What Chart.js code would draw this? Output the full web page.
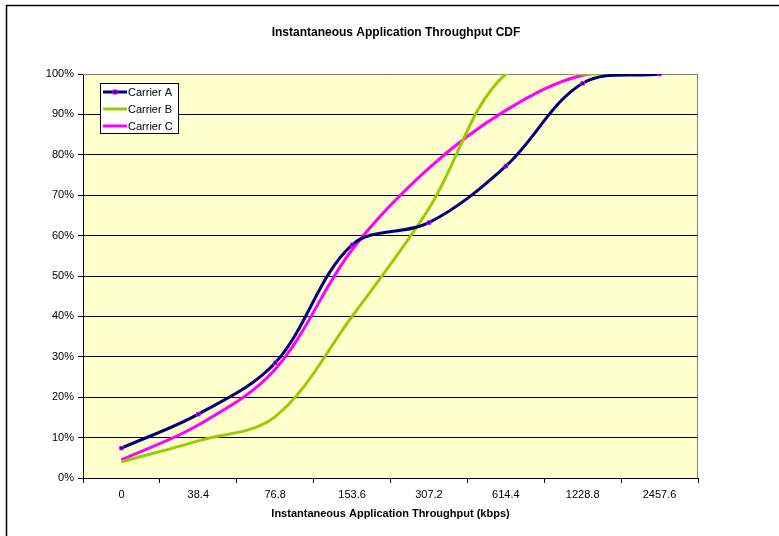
<!DOCTYPE html>
<html>
<head>
<meta charset="utf-8">
<script src="https://cdn.jsdelivr.net/npm/chart.js@4"></script>
<style>
  html, body { margin: 0; padding: 0; background: #fff; }
  #wrap { width: 779px; height: 536px; position: relative; }
</style>
</head>
<body>
<div id="wrap"><canvas id="c" width="779" height="536"></canvas></div>
<script>
const chartTitle = 'Instantaneous Application Throughput CDF';
const xAxisTitle = 'Instantaneous Application Throughput (kbps)';
const categories = ['0', '38.4', '76.8', '153.6', '307.2', '614.4', '1228.8', '2457.6'];
const carrierA = [7.4, 15.8, 28.5, 57.7, 63.2, 77.2, 97.7, 100];
const carrierB = [4.0, 9.2, 15.2, 40.0, 66.7, 100, 100, 100];
const carrierC = [4.5, 13.1, 26.9, 56.5, 76.7, 91.0, 99.7, 100];
const seriesNames = ['Carrier A', 'Carrier B', 'Carrier C'];
const yTicks = [0, 10, 20, 30, 40, 50, 60, 70, 80, 90, 100];

const FONT = 'Arial, "Liberation Sans", sans-serif';

const framePlugin = {
  id: 'frame',
  beforeDraw(chart) {
    const ctx = chart.ctx, a = chart.chartArea;
    ctx.save();
    ctx.fillStyle = '#fff';
    ctx.fillRect(0, 0, chart.width, chart.height);
    ctx.strokeStyle = '#000';
    ctx.lineWidth = 1.5;
    ctx.strokeRect(6.5, 5.5, chart.width + 50, chart.height + 50);
    ctx.fillStyle = '#FFFFCC';
    ctx.fillRect(a.left, a.top, a.right - a.left, a.bottom - a.top);
    ctx.fillStyle = '#000';
    ctx.font = 'bold 12px ' + FONT;
    ctx.textAlign = 'center';
    ctx.textBaseline = 'middle';
    ctx.fillText(chartTitle, 396, 33);
    ctx.restore();
  },
  beforeDatasetsDraw(chart) {
    const ctx = chart.ctx, a = chart.chartArea;
    ctx.save();
    ctx.strokeStyle = '#808080';
    ctx.lineWidth = 1;
    ctx.beginPath();
    ctx.moveTo(a.left, a.top + 0.5);
    ctx.lineTo(a.right - 0.5, a.top + 0.5);
    ctx.lineTo(a.right - 0.5, a.bottom);
    ctx.stroke();
    ctx.restore();
  },
  afterDraw(chart) {
    const ctx = chart.ctx;
    ctx.save();
    const bx = 100.5, by = 83.5, bw = 78, bh = 50;
    ctx.fillStyle = '#fff';
    ctx.fillRect(bx, by, bw, bh);
    ctx.strokeStyle = '#000';
    ctx.lineWidth = 1;
    ctx.strokeRect(bx, by, bw, bh);
    const rows = [92, 109, 126];
    ctx.font = '11px ' + FONT;
    ctx.textAlign = 'left';
    ctx.textBaseline = 'middle';
    chart.data.datasets.forEach((ds, i) => {
      const y = rows[i];
      ctx.strokeStyle = ds.borderColor;
      ctx.lineWidth = 3;
      ctx.beginPath();
      ctx.moveTo(103, y);
      ctx.lineTo(127, y);
      ctx.stroke();
      if (ds.pointRadius > 0) {
        ctx.fillStyle = ds.pointBackgroundColor;
        ctx.strokeStyle = ds.pointBorderColor;
        ctx.lineWidth = 1;
        ctx.fillRect(113, y - 2, 4, 4);
        ctx.strokeRect(113, y - 2, 4, 4);
      }
      ctx.fillStyle = '#000';
      ctx.fillText(ds.label, 128, y + 0.5);
    });
    ctx.restore();
  }
};

new Chart(document.getElementById('c'), {
  type: 'line',
  data: {
    labels: categories,
    datasets: [
      {
        label: seriesNames[0], data: carrierA,
        borderColor: '#000080', borderWidth: 3,
        pointStyle: 'rect', pointRadius: 2.5,
        pointBackgroundColor: '#000080', pointBorderColor: '#FF00FF', pointBorderWidth: 1,
        tension: 0.35, fill: false
      },
      {
        label: seriesNames[1], data: carrierB,
        borderColor: '#99CC00', borderWidth: 3, pointRadius: 0,
        tension: 0.35, fill: false
      },
      {
        label: seriesNames[2], data: carrierC,
        borderColor: '#FF00FF', borderWidth: 3, pointRadius: 0,
        tension: 0.35, fill: false
      }
    ]
  },
  options: {
    responsive: false,
    animation: false,
    devicePixelRatio: 1,
    layout: { padding: { top: 74, right: 81, left: 0, bottom: 0 } },
    elements: { line: { capBezierPoints: false } },
    plugins: {
      legend: { display: false },
      title: { display: false },
      tooltip: { enabled: false }
    },
    scales: {
      x: {
        type: 'category',
        offset: true,
        grid: {
          offset: true, drawOnChartArea: false, drawTicks: true,
          tickLength: 5, color: '#000', tickColor: '#000'
        },
        border: { display: true, color: '#000', width: 1 },
        ticks: {
          color: '#000', font: { family: FONT, size: 11 }, padding: 5,
          maxRotation: 0, autoSkip: false
        },
        title: {
          display: true, text: xAxisTitle, color: '#000',
          font: { family: FONT, size: 11, weight: 'bold' },
          padding: { top: 4, bottom: 15 }
        },
        afterFit(scale) { scale.height = 58; }
      },
      y: {
        min: 0, max: 100,
        afterBuildTicks(scale) { scale.ticks = yTicks.map(v => ({ value: v })); },
        grid: {
          color: '#000', tickColor: '#000', tickLength: 5, drawTicks: true, lineWidth: 1
        },
        border: { display: true, color: '#000', width: 1 },
        ticks: {
          color: '#000', font: { family: FONT, size: 11 }, padding: 4,
          callback: v => v + '%'
        },
        afterFit(scale) { scale.width = 83; }
      }
    }
  },
  plugins: [framePlugin]
});
</script>
</body>
</html>
